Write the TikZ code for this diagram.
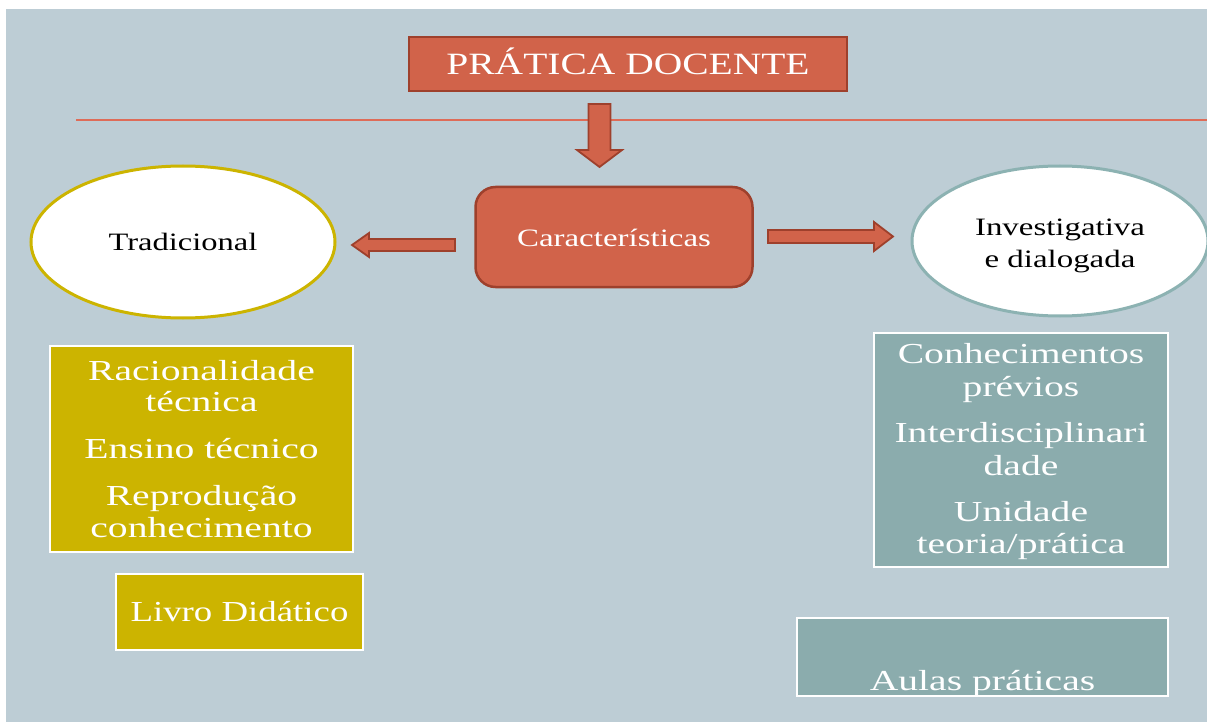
\documentclass[tikz,border=0pt]{standalone}
\usepackage{fontspec}
\setmainfont{Liberation Serif}
\usepackage{graphicx}
\usetikzlibrary{shapes.geometric,calc}
\definecolor{bg}{RGB}{189,205,213}
\definecolor{redfill}{RGB}{209,99,74}
\definecolor{redline}{RGB}{158,64,44}
\definecolor{gold}{RGB}{204,180,0}
\definecolor{tealfill}{RGB}{139,172,173}
\definecolor{tealline}{RGB}{140,178,178}
\definecolor{rulecol}{RGB}{222,108,88}
\newcommand\sx[2]{\scalebox{#1}[1]{#2}}
\newcommand\fsz[1]{\fontsize{#1}{#1}\selectfont}
\tikzset{
 redbox/.style={draw=redline, line width=2.5pt, fill=redfill, text=white, inner sep=0pt, outer sep=0pt},
 goldbox/.style={draw=white, line width=2.5pt, fill=gold, text=white, inner sep=0pt, outer sep=0pt},
 tealbox/.style={draw=white, line width=2.5pt, fill=tealfill, text=white, inner sep=0pt, outer sep=0pt},
 oval/.style={ellipse, fill=white, line width=3pt, inner sep=0pt, outer sep=0pt, text=black},
 txt/.style={inner sep=0pt, anchor=base, text=white},
 barrowstyle/.style={draw=redline, line width=1.8pt, fill=redfill, line join=miter},
 pics/barrow/.style n args={4}{code={\draw[barrowstyle] (0,-#2) -- ({#1-#4},-#2) -- ({#1-#4},-#3) -- (#1,0) -- ({#1-#4},#3) -- ({#1-#4},#2) -- (0,#2) -- cycle;}}
}
\begin{document}
\begin{tikzpicture}[x=1pt,y=-1pt]
\useasboundingbox (0,0) rectangle (1207,722);
\fill[white] (0,0) rectangle (1207,722);
\fill[bg] (6,9) rectangle (1207,722);
\coordinate (ruleL) at (76,120);
\coordinate (ruleR) at (1207,120);
\draw[rulecol, line width=1.3pt] (ruleL) -- (ruleR);

% title
\node[redbox, minimum width=438pt, minimum height=54pt, text height=20.6pt, text depth=0pt, font={\fsz{31}}] (pd) at (628,64) {\sx{1.274}{PRÁTICA DOCENTE}};

% characteristics
\node[redbox, rounded corners=20pt, minimum width=277pt, minimum height=100pt, text height=20pt, text depth=0pt, font={\fsz{25}}] (car) at (614,237) {\sx{1.318}{Características}};

% ellipses
\node[oval, draw=gold, minimum width=304pt, minimum height=152pt, text height=18pt, text depth=0pt, font={\fsz{25}}] (tr) at (183,242) {\sx{1.30}{Tradicional}};
\node[oval, draw=tealline, minimum width=296pt, minimum height=150pt] (inv) at (1060,241) {};
\node[txt, text=black, font={\fsz{25}}] (inv1) at (1060,235) {\sx{1.316}{Investigativa}};
\node[txt, text=black, font={\fsz{25}}] (inv2) at (1060,267) {\sx{1.316}{e dialogada}};

% block arrows
\coordinate (a1) at ($(pd.south)+(-28.5,13)$);
\pic[rotate=-90] at (a1) {barrow={63}{11}{22.5}{17}};
\coordinate (a2) at ($(car.west)+(-20.5,8)$);
\pic[rotate=180] at (a2) {barrow={103}{6}{12}{17}};
\coordinate (a3) at ($(car.east)+(15.5,-0.5)$);
\pic at (a3) {barrow={125}{6.5}{14.5}{19}};

% gold boxes
\node[goldbox, minimum width=303pt, minimum height=206pt] (gb) at (201.5,449) {};
\node[txt, font={\fsz{29}}] (g1) at (201.5,380) {\sx{1.366}{Racionalidade}};
\node[txt, font={\fsz{29}}] (g2) at (201.5,411.7) {\sx{1.366}{técnica}};
\node[txt, font={\fsz{29}}] (g3) at (201.5,458) {\sx{1.366}{Ensino técnico}};
\node[txt, font={\fsz{29}}] (g4) at (201.5,505) {\sx{1.366}{Reprodução}};
\node[txt, font={\fsz{29}}] (g5) at (201.5,537) {\sx{1.366}{conhecimento}};
\node[goldbox, minimum width=247pt, minimum height=76pt, text height=18pt, text depth=0pt, font={\fsz{29}}] (lv) at (239.5,612) {\sx{1.27}{Livro Didático}};

% teal boxes
\node[tealbox, minimum width=294pt, minimum height=234pt] (tb) at (1021,450) {};
\node[txt, font={\fsz{29}}] (t1) at (1021,363) {\sx{1.366}{Conhecimentos}};
\node[txt, font={\fsz{29}}] (t2) at (1021,396.7) {\sx{1.366}{prévios}};
\node[txt, font={\fsz{29}}] (t3) at (1021,442.7) {\sx{1.366}{Interdisciplinari}};
\node[txt, font={\fsz{29}}] (t4) at (1021,475.7) {\sx{1.366}{dade}};
\node[txt, font={\fsz{29}}] (t5) at (1021,521.7) {\sx{1.366}{Unidade}};
\node[txt, font={\fsz{29}}] (t6) at (1021,553.3) {\sx{1.366}{teoria/prática}};
\node[tealbox, minimum width=371pt, minimum height=78pt, text height=66pt, text depth=0pt, font={\fsz{29}}] (ap) at (982.5,657) {\sx{1.366}{Aulas práticas}};
\end{tikzpicture}
\end{document}
